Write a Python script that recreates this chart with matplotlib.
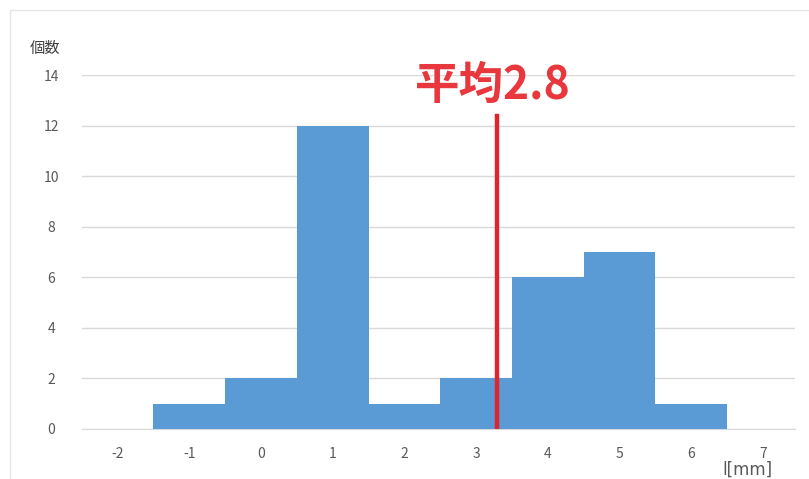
import matplotlib
matplotlib.use("Agg")
import matplotlib.pyplot as plt
from matplotlib.patches import Rectangle

plt.rcParams['font.family'] = ['Noto Sans CJK JP', 'DejaVu Sans']

bins = [-1, 0, 1, 2, 3, 4, 5, 6]
counts = [1, 2, 12, 1, 2, 6, 7, 1]
xticks = [-2, -1, 0, 1, 2, 3, 4, 5, 6, 7]
yticks = [0, 2, 4, 6, 8, 10, 12, 14]
mean_line_x = 3.29
mean_line_top = 12.4
mean_label = "平均2.8"

fig = plt.figure(figsize=(8.09, 4.79), dpi=100)
ax = fig.add_axes([0.101, 0.1044, 0.882, 0.7386])

ax.bar(bins, counts, width=1.0, color='#5B9BD5', edgecolor='none', zorder=2)
ax.plot([mean_line_x, mean_line_x], [0, mean_line_top], color='#E0242B', lw=3.2, zorder=3)

ax.set_xlim(-2.5, 7.45)
ax.set_ylim(0, 14)
ax.set_xticks(xticks)
ax.set_yticks(yticks)
ax.set_xticklabels([str(v) for v in xticks])
ax.tick_params(axis='both', length=0, labelsize=10, colors='#595959')
ax.tick_params(axis='x', pad=13)
ax.tick_params(axis='y', pad=22)
for lab in ax.get_yticklabels():
    lab.set_horizontalalignment('center')
ax.grid(axis='y', color='#D9D9D9', lw=1, zorder=0)
for s in ['top', 'right', 'left']:
    ax.spines[s].set_visible(False)
ax.spines['bottom'].set_color('#D9D9D9')
ax.spines['bottom'].set_zorder(1)

fig.text(45 / 809, 1 - 48 / 479, "個数", fontsize=11, color='#404040', ha='center', va='center')
fig.text(747 / 809, 1 - 469.5 / 479, "l[mm]", fontsize=12, color='#595959', ha='center', va='center',
         family=['DejaVu Sans'])
fig.text(493 / 809, 1 - 86 / 479, mean_label, fontsize=32, color='#E8383D', fontweight='bold',
         ha='center', va='center')

fig.add_artist(Rectangle((10 / 809, -0.01), 1.02, 1 - 10 / 479 + 0.01, transform=fig.transFigure,
                         fill=False, edgecolor='#E6E6E6', lw=1))

fig.savefig("out.png", dpi=100)
